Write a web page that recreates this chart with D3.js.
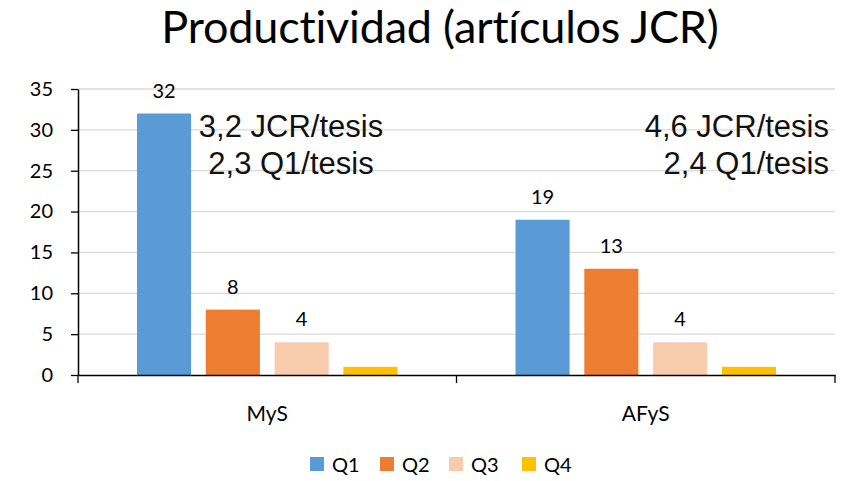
<!DOCTYPE html>
<html lang="es">
<head>
<meta charset="UTF-8">
<title>Productividad</title>
<style>
    body { margin: 0; background: #fff; }
    svg { display: block; }
    .lbl { font-family: Lato, "Open Sans", sans-serif; fill: #000; }
    .note { font-family: "Liberation Sans", Arial, sans-serif; fill: #111; }
</style>
</head>
<body>
<svg id="chart" width="843" height="481"></svg>
<script src="https://d3js.org/d3.v7.min.js"></script>
<script>
    const categories = ['MyS', 'AFyS'];
    const series = ['Q1', 'Q2', 'Q3', 'Q4'];
    const colors = ['#5B9BD5', '#ED7D31', '#F8CBAD', '#FFC000'];
    // values per category, in the order of series
    const mysValues = [32, 8, 4, 1];
    const afysValues = [19, 13, 4, 1];
    const shownLabels = [true, true, true, false];
    const yTicks = [0, 5, 10, 15, 20, 25, 30, 35];
    const notes = [
        ['3,2 JCR/tesis', '2,3 Q1/tesis'],
        ['4,6 JCR/tesis', '2,4 Q1/tesis']
    ];

    const values = [mysValues, afysValues];
    const svg = d3.select('#chart');
    const plotL = 78, plotR = 835, plotT = 89, plotB = 375;

    const x0 = d3.scaleBand().domain(categories).range([plotL, plotR]);
    const x1 = d3.scaleBand().domain(series)
        .range([59, x0.bandwidth() - 59]).paddingInner(0.214);
    const y = d3.scaleLinear().domain([0, 35]).range([plotB, plotT]);

    // title
    svg.append('text').attr('class', 'lbl')
        .attr('x', 440).attr('y', 43)
        .attr('text-anchor', 'middle')
        .style('font-size', '45px')
        .style('letter-spacing', '-0.2px')
        .text('Productividad (artículos JCR)');

    // gridlines
    svg.append('g').selectAll('line')
        .data(yTicks.filter(d => d > 0))
        .join('line')
        .attr('x1', plotL).attr('x2', plotR)
        .attr('y1', d => y(d)).attr('y2', d => y(d))
        .attr('stroke', '#d9d9d9').attr('stroke-width', 1.3);

    // bars
    const groups = svg.append('g').selectAll('g')
        .data(categories)
        .join('g')
        .attr('transform', d => `translate(${x0(d)},0)`);

    groups.each(function (cat, ci) {
        const g = d3.select(this);
        const rows = series.map((s, i) => ({ s, v: values[ci][i], i }));
        g.selectAll('rect').data(rows).join('rect')
            .attr('x', d => x1(d.s))
            .attr('y', d => y(d.v))
            .attr('width', x1.bandwidth())
            .attr('height', d => y(0) - y(d.v))
            .attr('fill', d => colors[d.i]);
        g.selectAll('text.val').data(rows.filter(d => shownLabels[d.i])).join('text')
            .attr('class', 'lbl val')
            .attr('x', d => x1(d.s) + x1.bandwidth() / 2)
            .attr('y', d => y(d.v) - 16)
            .attr('text-anchor', 'middle')
            .style('font-size', '20px')
            .text(d => d.v);
    });

    // y axis
    const yAxis = svg.append('g')
        .attr('transform', `translate(${plotL},0)`)
        .call(d3.axisLeft(y).tickValues(yTicks).tickSize(7).tickSizeOuter(0));
    yAxis.select('.domain').attr('stroke', '#000').attr('stroke-width', 1.5);
    yAxis.selectAll('.tick line').attr('stroke', '#000').attr('stroke-width', 1.3);
    yAxis.selectAll('.tick text')
        .attr('class', 'lbl').attr('x', -25)
        .style('font-size', '20px');

    // x axis
    const xAxis = svg.append('g')
        .attr('transform', `translate(0,${plotB})`)
        .call(d3.axisBottom(x0).tickSize(0).tickSizeOuter(0));
    xAxis.select('.domain').attr('stroke', '#000').attr('stroke-width', 1.5);
    xAxis.selectAll('.tick text')
        .attr('class', 'lbl').attr('dy', 0).attr('y', 46)
        .style('font-size', '21px');
    // category separators
    xAxis.selectAll('line.sep')
        .data([plotL, ...categories.map(c => x0(c) + x0.bandwidth())])
        .join('line')
        .attr('class', 'sep')
        .attr('x1', d => d).attr('x2', d => d)
        .attr('y1', 0).attr('y2', 8)
        .attr('stroke', '#000').attr('stroke-width', 1.3);

    // notes
    const notePos = [
        { x: 291, anchor: 'middle' },
        { x: 829, anchor: 'end' }
    ];
    notes.forEach((lines, i) => {
        svg.append('text').attr('class', 'note')
            .attr('x', notePos[i].x)
            .attr('text-anchor', notePos[i].anchor)
            .style('font-size', '31px')
            .selectAll('tspan').data(lines).join('tspan')
            .attr('x', notePos[i].x)
            .attr('y', (d, j) => 137 + j * 37)
            .text(d => d);
    });

    // legend
    const legendX = [310, 380, 449, 522];
    const legend = svg.append('g').selectAll('g')
        .data(series)
        .join('g')
        .attr('transform', (d, i) => `translate(${legendX[i]},457)`);
    legend.append('rect')
        .attr('width', 14).attr('height', 14)
        .attr('fill', (d, i) => colors[i]);
    legend.append('text').attr('class', 'lbl')
        .attr('x', 22).attr('y', 15)
        .style('font-size', '20px')
        .text(d => d);
</script>
</body>
</html>
